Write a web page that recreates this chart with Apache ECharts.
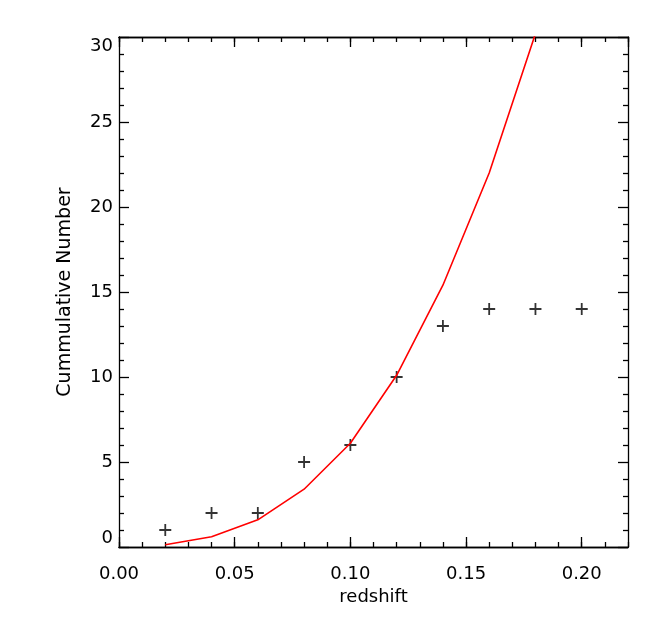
<!DOCTYPE html>
<html>
<head>
<meta charset="utf-8">
<script src="https://cdn.jsdelivr.net/npm/echarts@6/dist/echarts.min.js"></script>
<style>
  html, body { margin: 0; padding: 0; background: #fff; }
  #main { width: 664px; height: 623px; }
</style>
</head>
<body>
<div id="main"></div>
<script>
// observed counts (plus markers)
const redshift = [0.02, 0.04, 0.06, 0.08, 0.10, 0.12, 0.14, 0.16, 0.18, 0.20]
const observed = [1, 2, 2, 5, 6, 10, 13, 14, 14, 14]
// model curve (red line)
const modelZ = [0.02, 0.04, 0.06, 0.08, 0.10, 0.12, 0.14, 0.16, 0.18]
const modelN = [0.13, 0.6, 1.6, 3.4, 6.1, 10.1, 15.4, 22.0, 30.2]

const font = 'DejaVu Sans'
const plusPath = 'path://M0,5.1L12,5.1L12,6.9L0,6.9Z M5.1,0L6.9,0L6.9,12L5.1,12Z'

var chartDom = document.getElementById('main')
var myChart = echarts.init(chartDom)

const lineStyle = { color: '#000', width: 1.3 }

const xBase = {
  type: 'value',
  min: 0,
  max: 0.22,
  axisLine: { show: true, onZero: false, lineStyle: lineStyle },
  splitLine: { show: false }
}

var option = {
  animation: false,
  backgroundColor: '#fff',
  grid: { left: 119, right: 36, top: 37, bottom: 76 },
  xAxis: [
    // bottom major
    Object.assign({}, xBase, {
      position: 'bottom',
      interval: 0.05,
      name: 'redshift',
      nameLocation: 'middle',
      nameGap: 39,
      nameTextStyle: { fontFamily: font, fontSize: 18, color: '#000' },
      axisTick: { inside: true, length: 10, lineStyle: lineStyle },
      axisLabel: {
        margin: 18,
        fontFamily: font,
        fontSize: 18,
        color: '#000',
        showMaxLabel: false,
        formatter: function (v) { return v.toFixed(2) }
      }
    }),
    // bottom minor
    Object.assign({}, xBase, {
      position: 'bottom',
      interval: 0.01,
      axisTick: { inside: true, length: 5, lineStyle: lineStyle },
      axisLabel: { show: false }
    }),
    // top major
    Object.assign({}, xBase, {
      position: 'top',
      interval: 0.05,
      axisTick: { inside: true, length: 10, lineStyle: lineStyle },
      axisLabel: { show: false }
    }),
    // top minor
    Object.assign({}, xBase, {
      position: 'top',
      interval: 0.01,
      axisTick: { inside: true, length: 5, lineStyle: lineStyle },
      axisLabel: { show: false }
    })
  ],
  yAxis: [
    {
      type: 'value',
      position: 'left',
      min: 0,
      max: 30,
      interval: 5,
      name: 'Cummulative Number',
      nameLocation: 'middle',
      nameGap: 44,
      nameTextStyle: { fontFamily: font, fontSize: 19, color: '#000' },
      axisLine: { show: true, onZero: false, lineStyle: lineStyle },
      axisTick: { inside: true, length: 10, lineStyle: lineStyle },
      minorTick: { show: true, splitNumber: 5, length: 5, lineStyle: lineStyle },
      splitLine: { show: false },
      axisLabel: {
        margin: 6,
        fontFamily: font,
        fontSize: 18,
        color: '#000',
        verticalAlignMinLabel: 'bottom',
        verticalAlignMaxLabel: 'top'
      }
    },
    {
      type: 'value',
      position: 'right',
      min: 0,
      max: 30,
      interval: 5,
      axisLine: { show: true, onZero: false, lineStyle: lineStyle },
      axisTick: { inside: true, length: 10, lineStyle: lineStyle },
      minorTick: { show: true, splitNumber: 5, length: 5, lineStyle: lineStyle },
      splitLine: { show: false },
      axisLabel: { show: false }
    }
  ],
  series: [
    {
      name: 'model',
      type: 'line',
      xAxisIndex: 0,
      yAxisIndex: 0,
      data: modelZ.map((z, i) => [z, modelN[i]]),
      showSymbol: false,
      symbol: 'none',
      clip: true,
      lineStyle: { color: '#ff0000', width: 1.6 }
    },
    {
      name: 'observed',
      type: 'scatter',
      xAxisIndex: 0,
      yAxisIndex: 0,
      data: redshift.map((z, i) => [z, observed[i]]),
      symbol: plusPath,
      symbolSize: 12,
      itemStyle: { color: '#000' }
    }
  ]
}

option && myChart.setOption(option)
</script>
</body>
</html>
